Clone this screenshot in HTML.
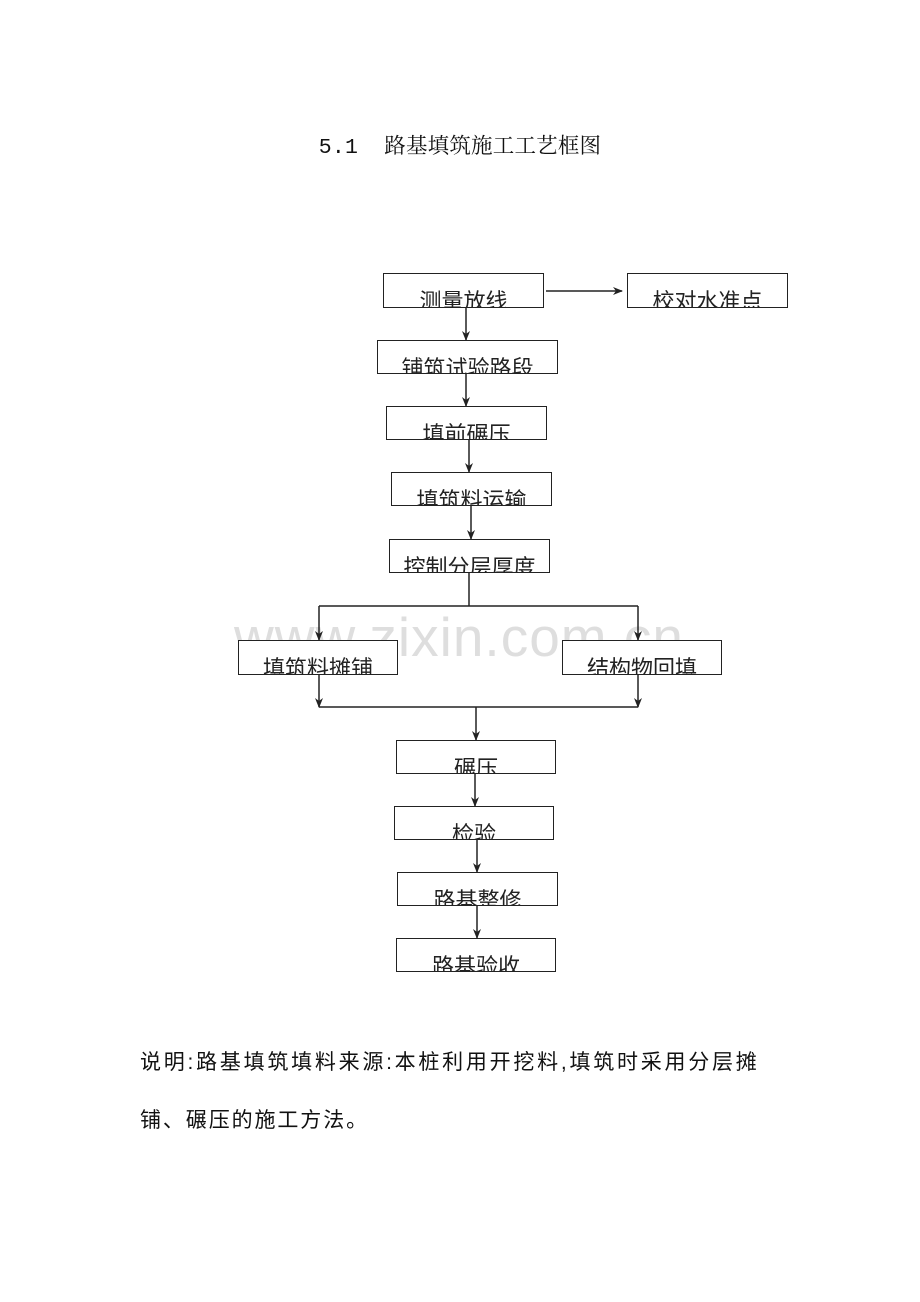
<!DOCTYPE html>
<html><head><meta charset="utf-8"><style>
body{margin:0;width:920px;height:1302px;background:#fff;position:relative;overflow:hidden;font-family:"Liberation Sans","Noto Sans CJK SC",sans-serif;}
.b{position:absolute;border:1.5px solid #222;box-sizing:border-box;overflow:hidden;background:#fff;}
.b span{position:absolute;left:0;right:0;top:17px;text-align:center;font-size:22px;line-height:22px;color:#222;white-space:nowrap;}
.t{position:absolute;color:#111;white-space:nowrap;}
svg{position:absolute;left:0;top:0;}
</style></head><body>
<div class="t" style="left:0;width:920px;text-align:center;top:129px;font-size:21.5px;letter-spacing:0.2px;font-family:'Liberation Mono','Noto Serif CJK SC',monospace;">5.1&nbsp;&nbsp;路基填筑施工工艺框图</div>
<div class="t" style="left:234px;top:605px;font-size:55px;color:#dedede;letter-spacing:1px;">www.zixin.com.cn</div>

<svg width="920" height="1302">
<defs><marker id="a" markerWidth="10" markerHeight="8" refX="9" refY="4" orient="auto" markerUnits="userSpaceOnUse"><path d="M0,0 L10,4 L0,8 L3,4z" fill="#222"/></marker></defs>
<g stroke="#222" stroke-width="1.5" fill="none">
<line x1="546" y1="291" x2="622" y2="291" marker-end="url(#a)"/>
<line x1="466" y1="307" x2="466" y2="340" marker-end="url(#a)"/>
<line x1="466" y1="373" x2="466" y2="406" marker-end="url(#a)"/>
<line x1="469" y1="439" x2="469" y2="472" marker-end="url(#a)"/>
<line x1="471" y1="505" x2="471" y2="539" marker-end="url(#a)"/>
<line x1="469" y1="572" x2="469" y2="606"/>
<line x1="319" y1="606" x2="638" y2="606"/>
<line x1="319" y1="606" x2="319" y2="640" marker-end="url(#a)"/>
<line x1="638" y1="606" x2="638" y2="640" marker-end="url(#a)"/>
<line x1="319" y1="674" x2="319" y2="707" marker-end="url(#a)"/>
<line x1="638" y1="674" x2="638" y2="707" marker-end="url(#a)"/>
<line x1="319" y1="707" x2="638" y2="707"/>
<line x1="476" y1="707" x2="476" y2="740" marker-end="url(#a)"/>
<line x1="475" y1="773" x2="475" y2="806" marker-end="url(#a)"/>
<line x1="477" y1="839" x2="477" y2="872" marker-end="url(#a)"/>
<line x1="477" y1="905" x2="477" y2="938" marker-end="url(#a)"/>
</g></svg>

<div class="b" style="left:383px;top:273px;width:161px;height:35px"><span>测量放线</span></div>
<div class="b" style="left:627px;top:273px;width:161px;height:35px"><span>校对水准点</span></div>
<div class="b" style="left:377px;top:340px;width:181px;height:34px"><span>铺筑试验路段</span></div>
<div class="b" style="left:386px;top:406px;width:161px;height:34px"><span>填前碾压</span></div>
<div class="b" style="left:391px;top:472px;width:161px;height:34px"><span>填筑料运输</span></div>
<div class="b" style="left:389px;top:539px;width:161px;height:34px"><span>控制分层厚度</span></div>
<div class="b" style="left:238px;top:640px;width:160px;height:35px"><span>填筑料摊铺</span></div>
<div class="b" style="left:562px;top:640px;width:160px;height:35px"><span>结构物回填</span></div>
<div class="b" style="left:396px;top:740px;width:160px;height:34px"><span>碾压</span></div>
<div class="b" style="left:394px;top:806px;width:160px;height:34px"><span>检验</span></div>
<div class="b" style="left:397px;top:872px;width:161px;height:34px"><span>路基整修</span></div>
<div class="b" style="left:396px;top:938px;width:160px;height:34px"><span>路基验收</span></div>

<div class="t" style="left:140px;top:1046px;font-size:21px;letter-spacing:2.75px;">说明:路基填筑填料来源:本桩利用开挖料,填筑时采用分层摊</div>
<div class="t" style="left:140px;top:1104px;font-size:21px;letter-spacing:1.9px;">铺、碾压的施工方法。</div>
</body></html>
